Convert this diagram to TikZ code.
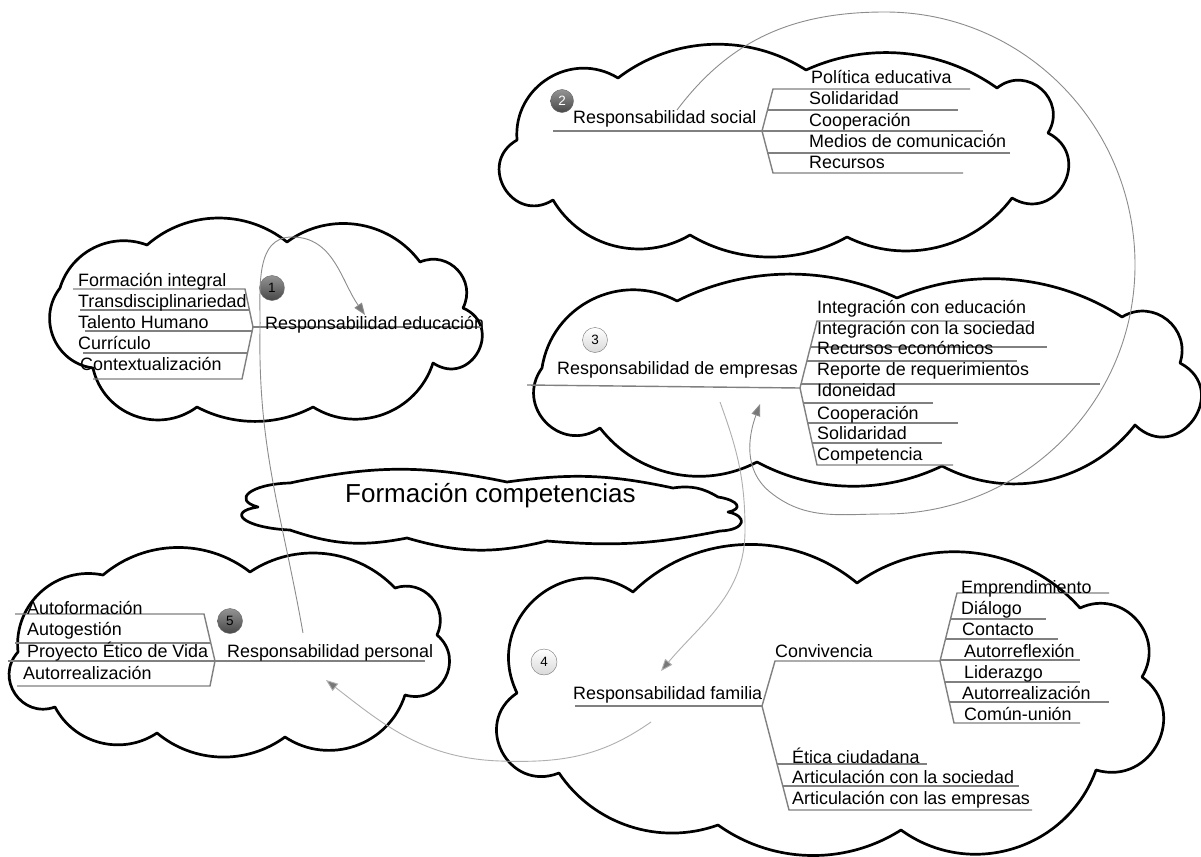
\documentclass[tikz,border=0pt]{standalone}
\usepackage{fontspec}
\setmainfont{Liberation Sans}
\usetikzlibrary{arrows.meta}
\definecolor{ulgray}{RGB}{128,128,128}
\definecolor{cgray}{RGB}{140,140,140}
\definecolor{lgray}{RGB}{175,175,175}
\definecolor{agray}{RGB}{120,120,120}
\tikzset{
  arcb/.code={\pgfmathsetmacro\arcL{(4/3)*tan(#1/2)/(2*sin(#1))/0.3915}%
    \edef\arctmp{\noexpand\tikzset{bend left=#1,looseness=\arcL}}\arctmp},
  cloudline/.style={draw=black,line width=2.7pt,line join=round},
  uline/.style={draw=ulgray,line width=1.4pt},
  txt/.style={anchor=base west,inner sep=0pt,font=\fontsize{17.9}{20}\selectfont},
  bigtxt/.style={anchor=base west,inner sep=0pt,font=\fontsize{26}{30}\selectfont},
  numdark/.style={circle,minimum size=25pt,inner sep=0pt,draw=black!60,top color=black!42,bottom color=black!72,font=\fontsize{13.5}{14}\selectfont},
  numlight/.style={circle,minimum size=25pt,inner sep=0pt,draw=black!55,top color=white,bottom color=black!15,font=\fontsize{13.5}{14}\selectfont},
  conn/.style={draw=cgray,line width=0.9pt},
  connl/.style={draw=lgray,line width=0.9pt},
  tip/.style={-{Triangle[length=12pt,width=9pt,fill=agray]}},
}
\begin{document}
\begin{tikzpicture}[x=1pt,y=-1pt]
\useasboundingbox (0,0) rectangle (1201,856);
\clip (0,0) rectangle (1201,856);
\fill[white] (0,0) rectangle (1201,856);

% ---------------- clouds ----------------
% cloud 1 (educacion)
\draw[cloudline] (60,288) to[arcb=47] (147,245) to[arcb=40] (287,242) to[arcb=45] (420,262)
  to[arcb=70] (463,308) to[arcb=95] (433,363) to[arcb=52] (313,407) to[arcb=28] (197,407)
  to[arcb=57] (93,368) to[arcb=60] (60,288) -- cycle;
% cloud 2 (social)
\draw[cloudline] (517,140) to[arcb=63] (618,78) to[arcb=35] (806,70) to[arcb=30] (997,88)
  to[arcb=80] (1048,133) to[arcb=92] (1012,198) to[arcb=40] (847,237) to[arcb=30] (690,235)
  to[arcb=45] (553,200) to[arcb=91] (517,140) -- cycle;
% cloud 3 (empresas)
\draw[cloudline] (542,368) to[arcb=55] (677,301) to[arcb=26] (897,298) to[arcb=28] (1122,317)
  to[arcb=70] (1180,363) to[arcb=98] (1135,425) to[arcb=40] (942,466) to[arcb=27] (757,462)
  to[arcb=40] (600,428) to[arcb=80] (542,368) -- cycle;
% cloud 4 (familia)
\draw[cloudline] (517,693) to[arcb=75] (633,592) to[arcb=42] (857,583) to[arcb=42] (1080,608)
  to[arcb=73] (1142,677) to[arcb=80] (1096,770) to[arcb=53] (901,830) to[arcb=34] (718,825)
  to[arcb=38] (559,773) to[arcb=84] (517,693) -- cycle;
% cloud 5 (personal)
\draw[cloudline] (103,575) to[arcb=39] (250,572) to[arcb=40] (395,588) to[arcb=67] (437,635)
  to[arcb=78] (405,695) to[arcb=53] (285,737) to[arcb=38] (157,733) to[arcb=48] (55,707)
  to[arcb=76] (18,652) to[arcb=54] (103,575) -- cycle;
% central cloud
\draw[cloudline] (258,507) .. controls (232,500) and (250,484) .. (290,483)
  to[bend left=12] (507,482) to[bend left=10] (673,488) to[bend left=20] (718,497)
  .. controls (738,500) and (744,509) .. (728,512)
  .. controls (748,516) and (746,530) .. (720,531)
  to[bend left=8] (547,541) to[bend left=15] (407,538) to[bend left=15] (290,530)
  .. controls (245,528) and (225,512) .. (258,507) -- cycle;

% ---------------- cloud 1 content ----------------
\coordinate (reW) at (253,327);
\draw[uline] (reW) -- (483,327);
\draw[uline] (reW) -- (245,289) -- (73,289);
\draw[uline] (249.4,310) -- (80,310);
\draw[uline] (252,331) -- (85,331);
\draw[uline] (reW) -- (242,379) -- (93,379);
\draw[uline] (247.5,353) -- (83,353);
\node[txt] (re) at (265,329) {Responsabilidad educación};
\node[txt] (e1) at (78,286) {Formación integral};
\node[txt] (e2) at (78,307) {Transdisciplinariedad};
\node[txt] (e3) at (78,328) {Talento Humano};
\node[txt] (e4) at (78,349) {Currículo};
\node[txt] (e5) at (80,370) {Contextualización};
\node[numdark] (n1) at (272,288) {1};

% ---------------- cloud 2 content ----------------
\coordinate (rsE) at (762,131);
\draw[uline] (553,131) -- (rsE);
\draw[uline] (rsE) -- (773,89) -- (970,89);
\draw[uline] (767.5,110) -- (958,110);
\draw[uline] (rsE) -- (983,131);
\draw[uline] (767.5,153) -- (1010,153);
\draw[uline] (rsE) -- (773,173) -- (963,173);
\node[txt] (rs) at (573,124) {Responsabilidad social};
\node[txt] (s1) at (811,84) {Política educativa};
\node[txt] (s2) at (809,105) {Solidaridad};
\node[txt] (s3) at (809,126) {Cooperación};
\node[txt] (s4) at (809,147) {Medios de comunicación};
\node[txt] (s5) at (809,168) {Recursos};
\node[numdark,text=white,minimum size=23pt] (n2) at (562,101) {2};

% ---------------- cloud 3 content ----------------
\coordinate (remE) at (800,388);
\draw[uline] (527,385) -- (remE);
\draw[uline] (remE) -- (817,321) -- (1030,321);
\draw[uline] (remE) -- (817,465) -- (953,465);
\draw[uline] (810.4,347) -- (1047,347);
\draw[uline] (806.9,361) -- (1017,361);
\draw[uline] (801,384) -- (1100,384);
\draw[uline] (803.3,403) -- (933,403);
\draw[uline] (807.7,423) -- (958,423);
\draw[uline] (812.1,443) -- (942,443);
\node[txt] (rem) at (557,374) {Responsabilidad de empresas};
\node[txt] (m1) at (817,313) {Integración con educación};
\node[txt] (m2) at (817,334) {Integración con la sociedad};
\node[txt] (m3) at (817,354) {Recursos económicos};
\node[txt] (m4) at (817,375) {Reporte de requerimientos};
\node[txt] (m5) at (817,396) {Idoneidad};
\node[txt] (m6) at (817,419) {Cooperación};
\node[txt] (m7) at (817,439) {Solidaridad};
\node[txt] (m8) at (817,460) {Competencia};
\node[numlight] (n3) at (595,340) {3};

% ---------------- cloud 4 content ----------------
\coordinate (rfE) at (762,706);
\coordinate (cvE) at (940,661);
\draw[uline] (575,706) -- (rfE);
\draw[uline] (rfE) -- (775,661) -- (cvE);
\draw[uline] (rfE) -- (789,810) -- (1032,810);
\draw[uline] (777,764) -- (927,764);
\draw[uline] (782.8,786) -- (1019,786);
\draw[uline] (cvE) -- (957,593) -- (1109,593);
\draw[uline] (950.5,619) -- (1046,619);
\draw[uline] (945.5,639) -- (1058,639);
\draw[uline] (940.3,660) -- (1080,660);
\draw[uline] (cvE) -- (954,723) -- (1080,723);
\draw[uline] (944.7,682) -- (1080,682);
\draw[uline] (949.3,702) -- (1109,702);
\node[txt] (rf) at (573,699) {Responsabilidad familia};
\node[txt] (cv) at (775,657) {Convivencia};
\node[txt] (f1) at (961,593) {Emprendimiento};
\node[txt] (f2) at (961,614) {Diálogo};
\node[txt] (f3) at (962,635) {Contacto};
\node[txt] (f4) at (964,657) {Autorreflexión};
\node[txt] (f5) at (964,678) {Liderazgo};
\node[txt] (f6) at (962,699) {Autorrealización};
\node[txt] (f7) at (964,720) {Común-unión};
\node[txt] (g1) at (792,763) {Ética ciudadana};
\node[txt] (g2) at (792,783) {Articulación con la sociedad};
\node[txt] (g3) at (792,804) {Articulación con las empresas};
\node[numlight,minimum size=26pt] (n4) at (544,662) {4};

% ---------------- cloud 5 content ----------------
\coordinate (rpW) at (215,661);
\draw[uline] (rpW) -- (425,661);
\draw[uline] (rpW) -- (204,614) -- (15,614);
\draw[uline] (210.8,643) -- (15,643);
\draw[uline] (rpW) -- (8,661);
\draw[uline] (rpW) -- (210,686) -- (17,686);
\node[txt] (rp) at (227,657) {Responsabilidad personal};
\node[txt] (p1) at (27,614) {Autoformación};
\node[txt] (p2) at (27,635) {Autogestión};
\node[txt] (p3) at (27,657) {Proyecto Ético de Vida};
\node[txt] (p4) at (23,679) {Autorrealización};
\node[numdark] (n5) at (230,621) {5};

% ---------------- central ----------------
\node[bigtxt] (fc) at (345,502) {Formación competencias};

% ---------------- connectors ----------------
\coordinate (a2s) at (677,110);
\coordinate (a2e) at (760,404);
\draw[conn,tip] (a2s) to[out=53,in=180] (885,12) to[out=0,in=90] (1135,265)
  to[out=-90,in=0] (885,514) to[out=180,in=-39] (770,492) to[out=141,in=-110] (a2e);

\coordinate (a5s) at (303,633);
\coordinate (a5e) at (365,315);
\draw[conn,tip] (a5s) to[out=100,in=-91] (260,330) to[out=89,in=180] (292,237) to[out=0,in=125] (a5e);

\coordinate (a3s) at (720,402);
\coordinate (a3e) at (661,671);
\draw[connl,tip] (a3s) to[out=-70,in=90] (745,530) to[out=-90,in=50] (a3e);

\coordinate (a4s) at (651,722);
\coordinate (a4e) at (326,680);
\draw[connl,tip] (a4s) to[out=-145,in=-2] (500,761) to[out=178,in=-38] (a4e);
\end{tikzpicture}
\end{document}
